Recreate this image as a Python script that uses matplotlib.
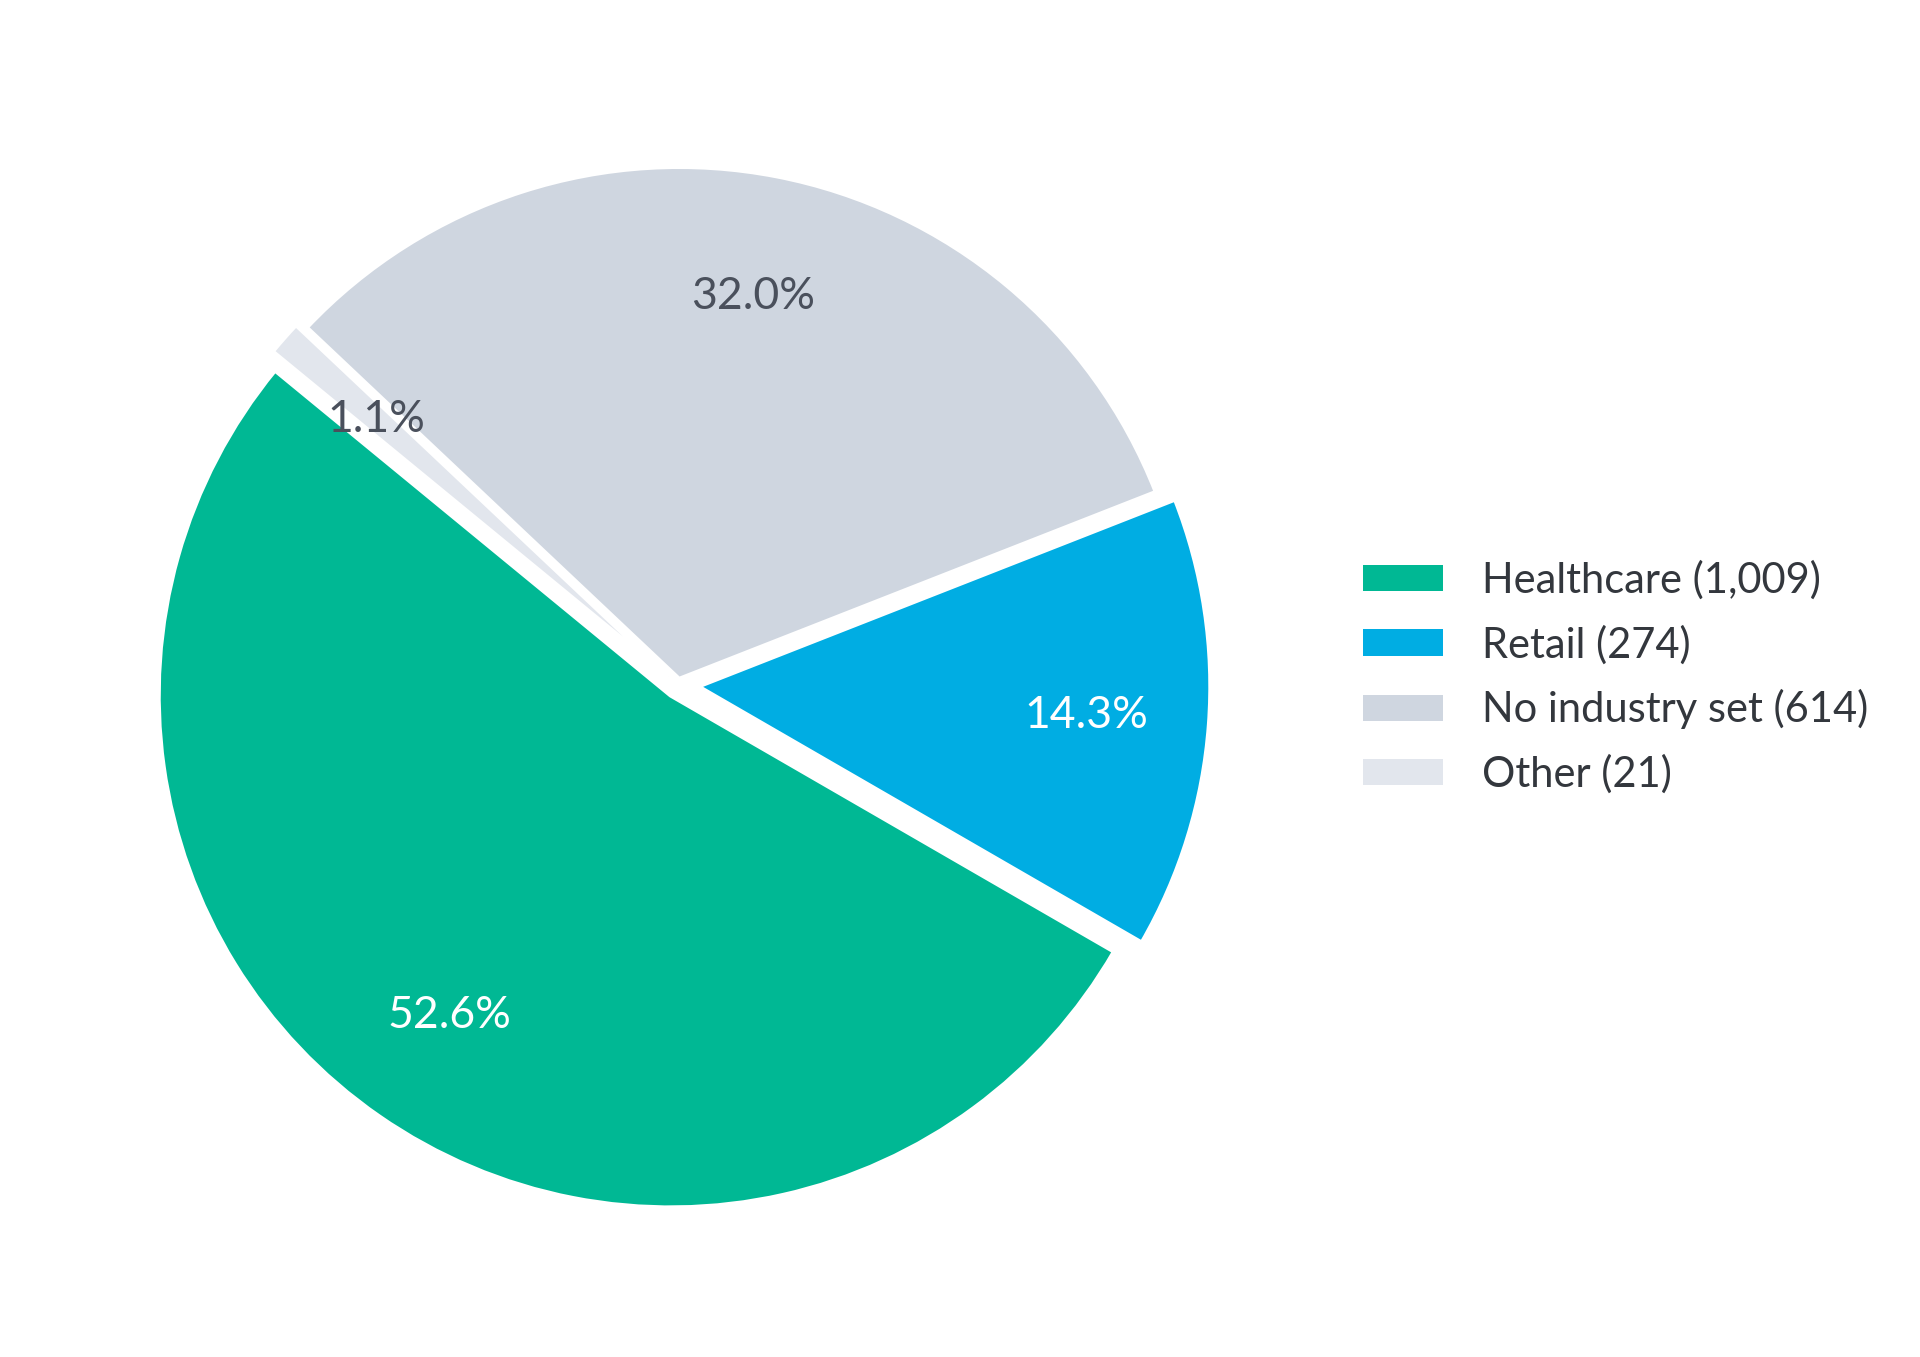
import matplotlib
matplotlib.use("Agg")
import matplotlib.pyplot as plt
from matplotlib.patches import Patch

categories = ['Healthcare', 'Retail', 'No industry set', 'Other']
counts = [1009, 274, 614, 21]
colores = ['#00b894', '#00ade3', '#cfd6e0', '#e2e6ed']
explode = [0.025, 0.04, 0.012, 0.025]
pct_colores = ['white', 'white', '#4a505c', '#4a505c']

plt.rcParams['font.family'] = ['Lato', 'DejaVu Sans']

fig = plt.figure(figsize=(19.2, 13.57), dpi=100)
ax = fig.add_axes([0.0331, 0.0424, 0.640, 0.9057])

wedges, texts, autotexts = ax.pie(
    counts, colors=colores, explode=explode, startangle=140.6,
    autopct='%1.1f%%', pctdistance=0.76, radius=1,
    wedgeprops=dict(edgecolor='white', linewidth=3),
    textprops=dict(fontsize=32))

for t, c in zip(autotexts, pct_colores):
    t.set_color(c)

ax.set_xlim(-1.2, 1.2)
ax.set_ylim(-1.2, 1.2)
ax.set_aspect('equal')
ax.axis('off')

# leyenda a la derecha
etiquetas = [f"{n} ({v:,})" for n, v in zip(categories, counts)]
handles = [Patch(facecolor=c, edgecolor='none') for c in colores]
leg = fig.legend(handles, etiquetas, loc='center left',
                 bbox_to_anchor=(0.710, 0.501), bbox_transform=fig.transFigure,
                 frameon=False, borderpad=0, borderaxespad=0,
                 handlelength=1.92, handleheight=0.6, handletextpad=0.94,
                 labelspacing=0.6, prop=dict(size=30))
for t in leg.get_texts():
    t.set_color('#33373d')

fig.savefig("out.png", dpi=100, facecolor='white')
